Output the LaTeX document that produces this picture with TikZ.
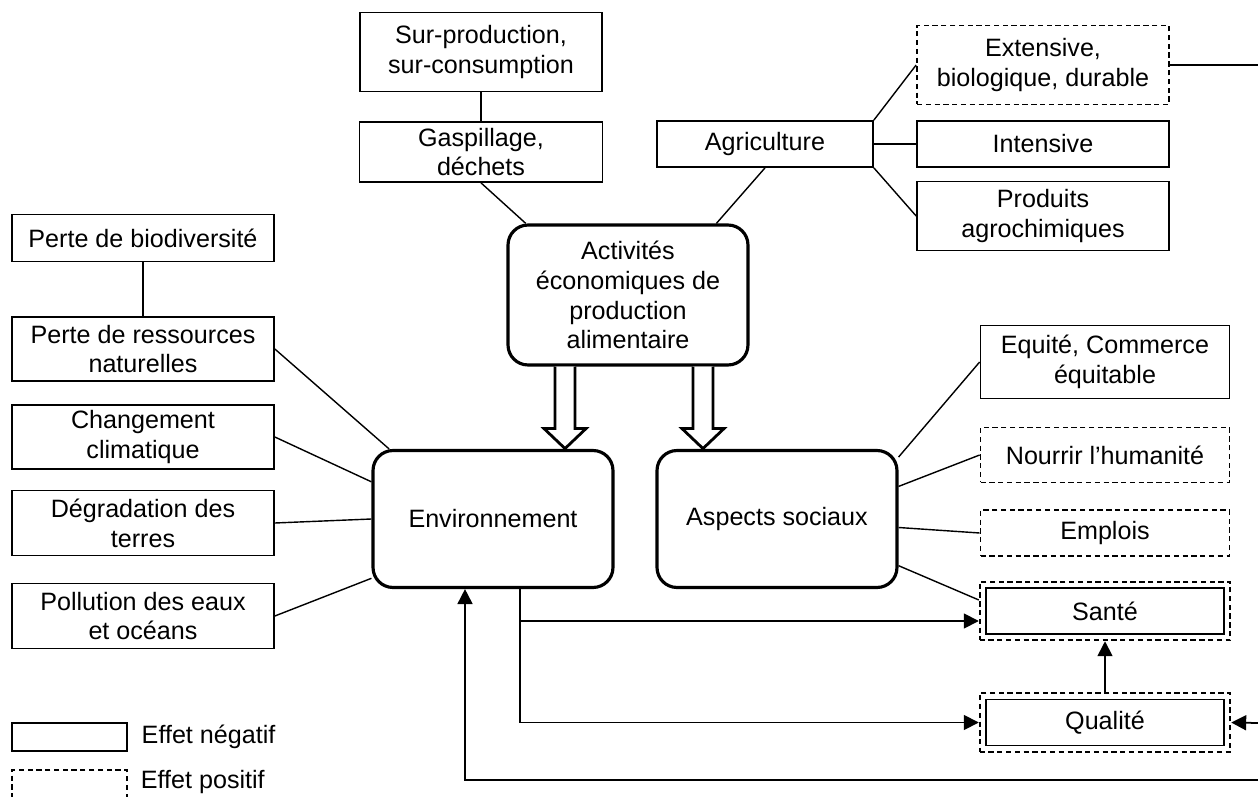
\documentclass[tikz,border=0pt]{standalone}
\usepackage{fontspec}
\setmainfont{Liberation Sans}
\usetikzlibrary{arrows.meta,fit}

\begin{document}
\begin{tikzpicture}[x=0.02cm,y=-0.02cm,
  box/.style={draw,line width=1pt,align=center,inner sep=0pt,font=\fontsize{14.3}{17}\selectfont},
  posbox/.style={box,dash pattern=on 3pt off 2pt},
  mainbox/.style={box,line width=1.8pt,rounded corners=0.4cm,minimum width=4.8cm},
  link/.style={line width=0.8pt},
  arr/.style={line width=1pt,-{Triangle[length=8.5pt,width=8.5pt]}},
  pics/fatarrow/.style={code={
    \draw[line width=1.6pt,fill=white] (-10,0) -- (-10,62) -- (-21,62) -- (0,82) -- (21,62) -- (10,62) -- (10,0);}}]
  \useasboundingbox (0,0) rectangle (1258,797);

  % activites et agriculture
  \node[box,minimum width=4.84cm,minimum height=1.58cm] (surprod) at (481,52) {Sur-production,\\sur-consumption};
  \node[box,minimum width=4.86cm,minimum height=1.2cm] (gaspi) at (481,152) {Gaspillage,\\déchets};
  \node[mainbox,minimum height=2.8cm] (activ) at (628,295) {Activités\\économiques de\\production\\alimentaire};
  \node[box,minimum width=4.32cm,minimum height=0.92cm] (agri) at (765,144) {Agriculture};
  \node[posbox,minimum width=5.04cm,minimum height=1.58cm] (extens) at (1043,65) {Extensive,\\biologique, durable};
  \node[box,minimum width=5.04cm,minimum height=0.92cm] (intens) at (1043,144) {Intensive};
  \node[box,minimum width=5.04cm,minimum height=1.38cm] (agrochim) at (1043,216) {Produits\\agrochimiques};

  % environnement
  \node[box,minimum width=5.24cm,minimum height=0.94cm] (biodiv) at (143,238) {Perte de biodiversité};
  \node[box,minimum width=5.24cm,minimum height=1.28cm] (ressources) at (143,349) {Perte de ressources\\naturelles};
  \node[box,minimum width=5.24cm,minimum height=1.28cm] (climat) at (143,437) {Changement\\climatique};
  \node[box,minimum width=5.24cm,minimum height=1.3cm] (degrad) at (143,523) {Dégradation des\\terres};
  \node[box,minimum width=5.24cm,minimum height=1.3cm] (pollution) at (143,616) {Pollution des eaux\\et océans};
  \node[mainbox,minimum height=2.74cm] (env) at (493,519) {Environnement};

  % aspects sociaux
  \node[mainbox,minimum height=2.74cm] (social) at (777,519) {Aspects sociaux};
  \node[box,minimum width=4.98cm,minimum height=1.46cm] (equite) at (1105,362) {Equité, Commerce\\équitable};
  \node[posbox,minimum width=4.98cm,minimum height=1.1cm] (nourrir) at (1105,455) {Nourrir l’humanité};
  \node[posbox,minimum width=4.98cm,minimum height=0.92cm] (emplois) at (1105,533) {Emplois};
  \node[box,minimum width=4.76cm,minimum height=0.92cm] (sante) at (1105,611) {Santé};
  \node[posbox,fit=(sante),inner sep=0.11cm] (santeo) {};
  \node[box,minimum width=4.76cm,minimum height=0.92cm] (qualite) at (1105,722.5) {Qualité};
  \node[posbox,fit=(qualite),inner sep=0.11cm] (qualiteo) {};

  \coordinate (extout) at (1258,65);
  \coordinate (qin) at (1258,723);
  \coordinate (back) at (1258,780);

  \draw[link] (surprod) -- (gaspi);
  \draw[link] (gaspi.south) -- (activ.145);
  \draw[link] (agri.south) -- (activ.39);
  \draw[link] (agri.north east) -- (extens.west);
  \draw[link] (agri) -- (intens);
  \draw[link] (agri.south east) -- (agrochim.west);
  \draw[link] (extens.east) -- (extout);
  \draw[link] (biodiv) -- (ressources);
  \draw[link] (ressources.east) -- (env.146);
  \draw[link] (climat.east) -- (env.163);
  \draw[link] (degrad.east) -- (env.west);
  \draw[link] (pollution.east) -- (env.206);
  \draw[link] (social.27) -- (equite.west);
  \draw[link] (social.15) -- (nourrir.west);
  \draw[link] (social.-4) -- (emplois.west);
  \draw[link] (social.-21) -- (santeo.175);

  \pic at ([xshift=-1.26cm]activ.south) {fatarrow};
  \pic at ([xshift=1.5cm]activ.south) {fatarrow};

  \draw[arr] ([xshift=0.54cm]env.south) |- ([yshift=-0.2cm]santeo.west);
  \draw[arr] ([xshift=0.54cm]env.south) |- (qualiteo.west);
  \draw[arr] (qualiteo.north) -- (santeo.south);
  \draw[arr] (qin) -- (qualiteo.east);
  \draw[arr] (back) -| ([xshift=-0.56cm]env.south);

  % legende
  \node[box,minimum width=2.3cm,minimum height=0.56cm] (legneg) at (69.5,737) {};
  \node[posbox,minimum width=2.3cm,minimum height=0.56cm] (legpos) at (69.5,784) {};
  \node[box,draw=none,anchor=west] (negtxt) at ([xshift=0.26cm]legneg.east) {Effet négatif};
  \node[box,draw=none,anchor=west] (postxt) at (140,782) {Effet positif};
\end{tikzpicture}
\end{document}
